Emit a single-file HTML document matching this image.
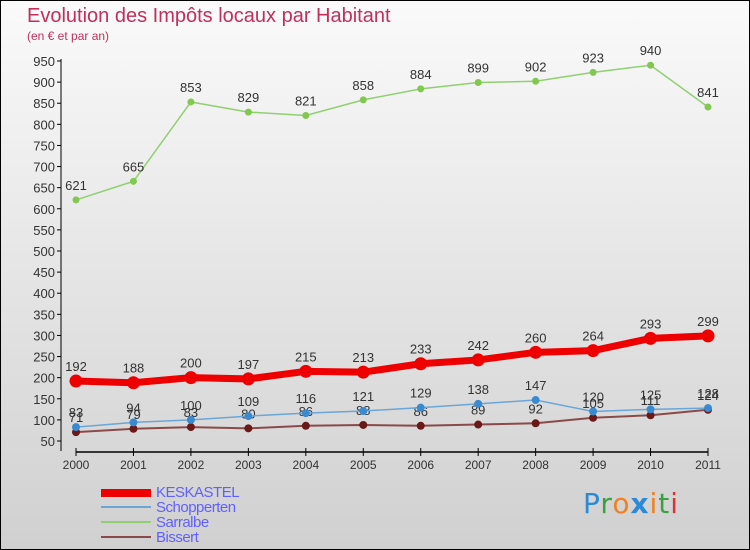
<!DOCTYPE html>
<html><head><meta charset="utf-8"><style>
body{margin:0}
#c{position:relative;width:748px;height:548px;border:1px solid #000;background:linear-gradient(#fafafa,#d0d0d0);font-family:"Liberation Sans",sans-serif;overflow:hidden}
.t{position:absolute;color:#c0305a}
.leg{position:absolute;left:155px;font-size:15px;color:#6060ff;letter-spacing:-0.5px}
.sw{position:absolute;left:100px;width:50px}
</style></head><body>
<div id="c">
<div class="t" style="left:26px;top:4px;font-size:20px">Evolution des Impôts locaux par Habitant</div>
<div class="t" style="left:26px;top:28px;font-size:12px">(en € et par an)</div>
<svg id="s" width="748" height="548" style="position:absolute;left:0;top:0"></svg>
<div class="sw" style="top:488px;height:8px;background:#e00"></div>
<div class="leg" style="top:483px">KESKASTEL</div>
<div class="sw" style="top:505px;height:2px;background:#6aa6d8"></div>
<div class="leg" style="top:498px">Schopperten</div>
<div class="sw" style="top:520px;height:2px;background:#90d070"></div>
<div class="leg" style="top:513px">Sarralbe</div>
<div class="sw" style="top:535px;height:2px;background:#8a4a4a"></div>
<div class="leg" style="top:528px">Bissert</div>
<div style="position:absolute;left:582px;top:486px;font-size:28px;font-family:'DejaVu Sans',sans-serif;letter-spacing:1px"><span style="color:#2a8ad8">P</span><span style="color:#3aa040">r</span><span style="color:#f08020">o</span><span style="color:#2a8ad8;font-weight:bold">x</span><span style="color:#f08020">i</span><span style="color:#3aa040">t</span><span style="color:#e03030">i</span></div>
</div>
<script>
const years=[2000,2001,2002,2003,2004,2005,2006,2007,2008,2009,2010,2011];
const keskastel=[192,188,200,197,215,213,233,242,260,264,293,299];
const schopperten=[83,94,100,109,116,121,129,138,147,120,125,128];
const sarralbe=[621,665,853,829,821,858,884,899,902,923,940,841];
const bissert=[71,79,83,80,86,88,86,89,92,105,111,124];
const yTicks=[50,100,150,200,250,300,350,400,450,500,550,600,650,700,750,800,850,900,950];
const NS="http://www.w3.org/2000/svg",s=document.getElementById('s');
const X=i=>75+i*(632/11), Y=v=>440-(v-50)*(380/900);
function el(t,a,p){const e=document.createElementNS(NS,t);for(const k in a)e.setAttribute(k,a[k]);(p||s).appendChild(e);return e;}
let a=el('line',{x1:60,y1:58,x2:60,y2:450,stroke:'#000'});


a=el('line',{x1:75,y1:451,x2:707,y2:451,stroke:'#000','stroke-width':1.5});


yTicks.forEach(v=>{el('line',{x1:56,x2:60,y1:Y(v),y2:Y(v),stroke:'#000'});
const t=el('text',{x:54,y:Y(v)+5,'text-anchor':'end','font-size':13,fill:'#333','font-family':'Liberation Sans'});t.textContent=v;

});
years.forEach((y,i)=>{el('line',{x1:X(i),x2:X(i),y1:447,y2:455,stroke:'#000'});
const t=el('text',{x:X(i),y:468,'text-anchor':'middle','font-size':12,fill:'#333','font-family':'Liberation Sans'});t.textContent=y;

});
function series(d,col,dot,w,r,name,lab){
const g=el('g',{});


el('polyline',{points:d.map((v,i)=>X(i)+','+Y(v)).join(' '),fill:'none',stroke:col,'stroke-width':w},g);
d.forEach((v,i)=>{const c=el('circle',{cx:X(i),cy:Y(v),r:r,fill:dot},g);


if(lab){const t=el('text',{x:X(i),y:Y(v)-10,'text-anchor':'middle','font-size':13,fill:'#333','font-family':'Liberation Sans'},g);t.textContent=v;

}});}
series(sarralbe,'#90d070','#80c850',1.5,3.5,'sarralbe',true);
series(bissert,'#8a4a4a','#6a1818',2,4,'bissert',true);
series(schopperten,'#6aa6d8','#3a8ad0',1.5,4,'schopperten',true);
series(keskastel,'#e00','#e00',7,6.5,'keskastel',true);
</script>
</body></html>
